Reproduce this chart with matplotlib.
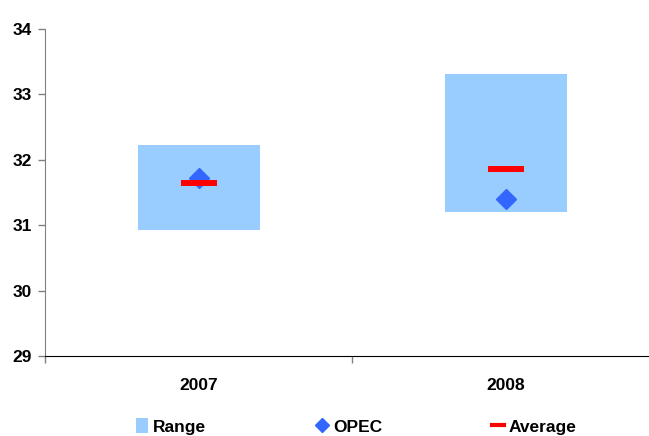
import matplotlib
matplotlib.use("Agg")
import matplotlib.pyplot as plt
from matplotlib.patches import Patch
from matplotlib.lines import Line2D

years = ["2007", "2008"]
range_low = [30.92, 31.20]
range_high = [32.22, 33.31]
opec = [31.72, 31.40]
average = [31.65, 31.86]

plt.rcParams['font.family'] = ['Liberation Sans', 'DejaVu Sans']
plt.rcParams['font.weight'] = 'bold'

fig = plt.figure(figsize=(6.49, 4.36), dpi=100)
ax = fig.add_axes([0.0701, 0.1835, 0.946, 0.7507])

xs = list(range(len(years)))
heights = [h - l for h, l in zip(range_high, range_low)]
ax.bar(xs, heights, bottom=range_low, width=0.4, color="#99CCFF", zorder=1)
ax.plot(xs, opec, linestyle="none", marker="D", markersize=10,
        color="#3366FF", zorder=2)
ax.hlines(average, [x - 0.06 for x in xs], [x + 0.06 for x in xs],
          colors="#FF0000", linewidth=4.3, zorder=3)

ax.set_xlim(-0.5, 1.5)
ax.set_ylim(29, 34)
ax.set_yticks([29, 30, 31, 32, 33, 34])
ax.tick_params(axis="y", labelsize=12.5, length=5, width=1, pad=5, color="#808080")

ax.set_xticks([-0.5, 0.5, 1.5])
ax.set_xticklabels([])
ax.set_xticks(xs, minor=True)
ax.set_xticklabels(years, minor=True)
ax.tick_params(axis="x", which="major", length=5, width=1, color="#808080")
ax.tick_params(axis="x", which="minor", length=0, labelsize=12.5, pad=16)

ax.spines["top"].set_visible(False)
ax.spines["right"].set_visible(False)
ax.spines["left"].set_color("#808080")
ax.spines["bottom"].set_color("black")

handles = [
    Patch(facecolor="#99CCFF", edgecolor="none"),
    Line2D([], [], linestyle="none", marker="D", markersize=7, color="#3366FF"),
    Line2D([], [], color="#FF0000", linewidth=3),
]
fig.legend(handles, ["Range", "OPEC", "Average"], ncol=3, loc="center",
           bbox_to_anchor=(0.549, 0.022), frameon=False, fontsize=12.5,
           handlelength=0.7, handleheight=0.9, handletextpad=0.3,
           columnspacing=6.3)

fig.savefig("out.png", dpi=100)
